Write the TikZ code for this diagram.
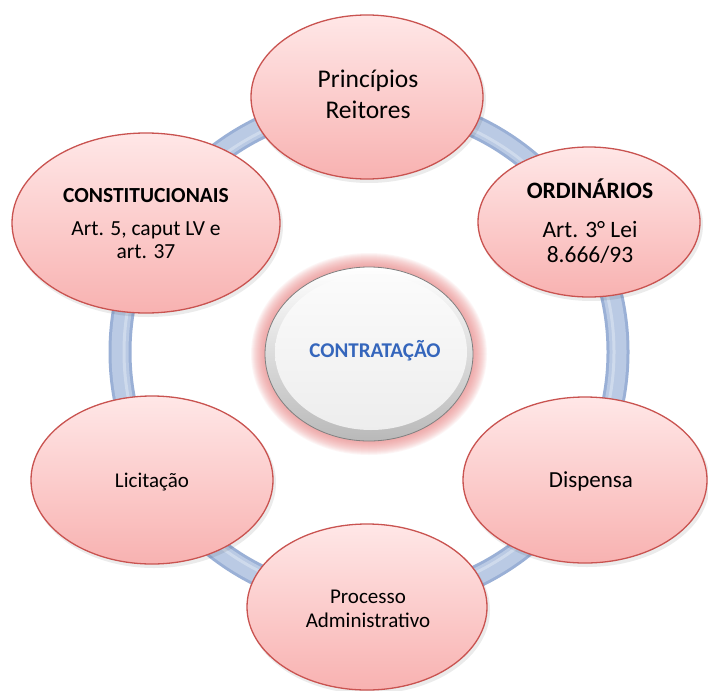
\documentclass[tikz,border=0pt]{standalone}
\usepackage{fontspec}
\setmainfont{Carlito}
\usetikzlibrary{shapes.geometric}
\definecolor{petaltop}{HTML}{FFE7E7}
\definecolor{petalbot}{HTML}{F8B2B1}
\definecolor{petaledge}{HTML}{C95350}
\definecolor{ringdark}{HTML}{9AB0D6}
\definecolor{ringlight}{HTML}{BACAE4}
\definecolor{glowred}{HTML}{EE8A8A}
\definecolor{ctrtext}{HTML}{3566BC}
\definecolor{rimgray}{HTML}{808080}
\begin{document}
\begin{tikzpicture}[x=1pt,y=-1pt,
  petal/.style={ellipse, inner sep=0pt, top color=petaltop, bottom color=petalbot, draw=petaledge, line width=1.3pt},
  lbl/.style={anchor=base, inner sep=0pt, text=black},
  shade/.style={ellipse, inner sep=0pt, fill=black, opacity=0.08, draw=none}
]
\useasboundingbox (0,0) rectangle (708,690);
\fill[white] (0,0) rectangle (708,690);
% ring
\coordinate (ctr) at (369,352);
\draw[ringdark, line width=23pt] (ctr) circle [radius=249pt];
\draw[ringlight, line width=17pt] (ctr) circle [radius=249pt];
\draw[white, opacity=0.3, line width=3pt] (ctr) circle [radius=245pt];
% soft shadows
\node[shade, minimum width=234pt, minimum height=166pt] (prs) at (369,100) {};
\node[shade, minimum width=270pt, minimum height=182pt] (cos) at (148,226) {};
\node[shade, minimum width=224pt, minimum height=152pt] (ors) at (591,225) {};
\node[shade, minimum width=246pt, minimum height=168pt] (dis) at (587,483) {};
\node[shade, minimum width=244pt, minimum height=170pt] (lis) at (154,483) {};
\node[shade, minimum width=242pt, minimum height=168pt] (pas) at (369,610) {};
% petals
\node[petal, minimum width=232pt, minimum height=164pt] (pr) at (367,97) {};
\node[petal, minimum width=268pt, minimum height=180pt] (co) at (146,223) {};
\node[petal, minimum width=222pt, minimum height=150pt] (or) at (589,222) {};
\node[petal, minimum width=244pt, minimum height=166pt] (di) at (585,480) {};
\node[petal, minimum width=242pt, minimum height=168pt] (li) at (152,480) {};
\node[petal, minimum width=240pt, minimum height=166pt] (pa) at (367,607) {};
% labels
\node[lbl, font=\fontsize{25.5}{30}\selectfont] (prA) at (368,88) {Princípios};
\node[lbl, font=\fontsize{25.5}{30}\selectfont] (prB) at (368,118) {Reitores};
\node[lbl, font=\fontsize{21.5}{26}\selectfont\bfseries] (coA) at (146,202) {CONSTITUCIONAIS};
\node[lbl, font=\fontsize{21.5}{26}\selectfont] (coB) at (146,235) {Art. 5, caput LV e};
\node[lbl, font=\fontsize{21.5}{26}\selectfont] (coC) at (146,258) {art. 37};
\node[lbl, font=\fontsize{23.5}{28}\selectfont\bfseries] (orA) at (590,198) {ORDINÁRIOS};
\node[lbl, font=\fontsize{23.5}{28}\selectfont] (orB) at (590,237) {Art. 3° Lei};
\node[lbl, font=\fontsize{23.5}{28}\selectfont] (orC) at (590,262) {8.666/93};
\node[lbl, font=\fontsize{23}{28}\selectfont] (diA) at (591,487) {Dispensa};
\node[lbl, font=\fontsize{21}{26}\selectfont] (liA) at (152,487) {Licitação};
\node[lbl, font=\fontsize{21}{26}\selectfont] (paA) at (368,603) {Processo};
\node[lbl, font=\fontsize{21}{26}\selectfont] (paB) at (368,627) {Administrativo};
% centre: glow
\coordinate (cc) at (369,354);
\foreach \k in {0,...,13}{
  \fill[glowred, opacity=0.08] (cc) ellipse [x radius={(118-\k)*1pt}, y radius={(101-\k)*1pt}];
}
% centre body
\node[ellipse, inner sep=0pt, minimum width=208pt, minimum height=174pt,
      top color=white, bottom color=gray!55, draw=rimgray, line width=0.8pt] (body) at (369,354) {};
\node[ellipse, inner sep=0pt, minimum width=192pt, minimum height=156pt,
      top color=gray!3, bottom color=gray!14] (face) at (371,352) {};
\node[lbl, font=\fontsize{21}{26}\selectfont\bfseries, text=ctrtext] (ct) at (375,357) {CONTRATAÇÃO};
\end{tikzpicture}
\end{document}
